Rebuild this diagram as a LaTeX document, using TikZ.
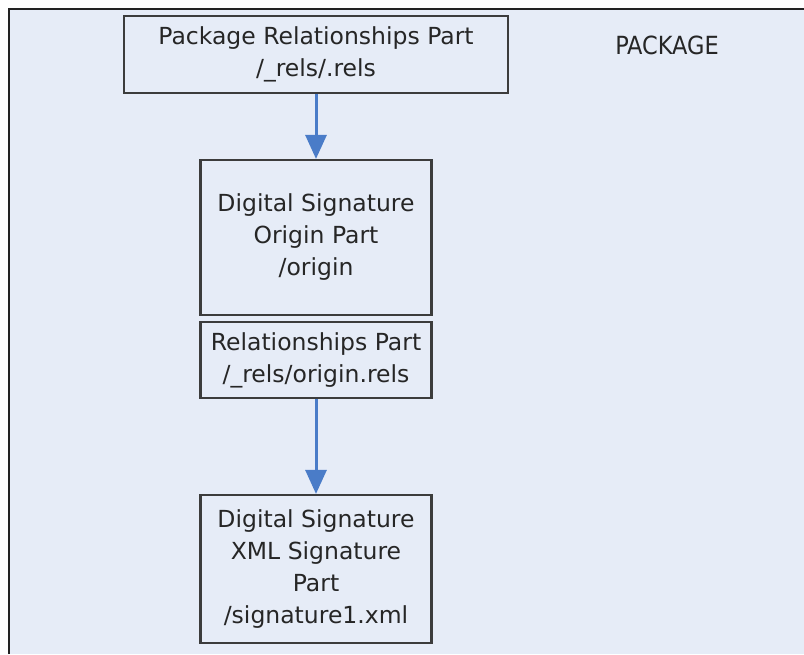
\documentclass[tikz,border=0pt]{standalone}
\usepackage{fontspec}
\setmainfont{DejaVu Sans}
\newfontfamily\condfont{DejaVu Sans Condensed}
\usetikzlibrary{arrows.meta}
\definecolor{bgblue}{HTML}{E6ECF7}
\definecolor{arrowblue}{HTML}{4A7CC8}
\definecolor{boxline}{HTML}{3C3C3C}
\definecolor{frameline}{HTML}{222222}
\definecolor{txt}{HTML}{262626}
\tikzset{
  partbox/.style={draw=boxline, line width=2.2pt, fill=bgblue, align=center, inner sep=0pt,
    font=\fontsize{23.5}{32}\selectfont, text=txt},
  flow/.style={draw=arrowblue, line width=3pt, -{Triangle[length=24pt,width=21pt]}}
}
\begin{document}
\begin{tikzpicture}[x=1pt,y=-1pt]
\useasboundingbox (0,0) rectangle (804,654);
\fill[white] (0,0) rectangle (804,654);
\fill[bgblue] (9,9) rectangle (804,654);
\draw[frameline, line width=2.5pt] (9,654) -- (9,9) -- (804,9);
\node[partbox, minimum width=384pt, minimum height=77pt] (pr) at (316,54.5) {Package Relationships Part\\/\_rels/.rels};
\node[font=\condfont\fontsize{25}{30}\selectfont, text=txt] (pkg) at (667,45) {PACKAGE};
\node[partbox, minimum width=231pt, minimum height=155pt] (orig) at (316,237.5) {Digital Signature\\Origin Part\\/origin};
\node[partbox, minimum width=231pt, minimum height=76pt] (orels) at (316,360) {Relationships Part\\/\_rels/origin.rels};
\node[partbox, minimum width=231pt, minimum height=148pt] (sig) at (316,569) {Digital Signature\\XML Signature\\Part\\/signature1.xml};
\draw[flow] (pr.south) -- (orig.north);
\draw[flow] (orels.south) -- (sig.north);
\end{tikzpicture}
\end{document}
